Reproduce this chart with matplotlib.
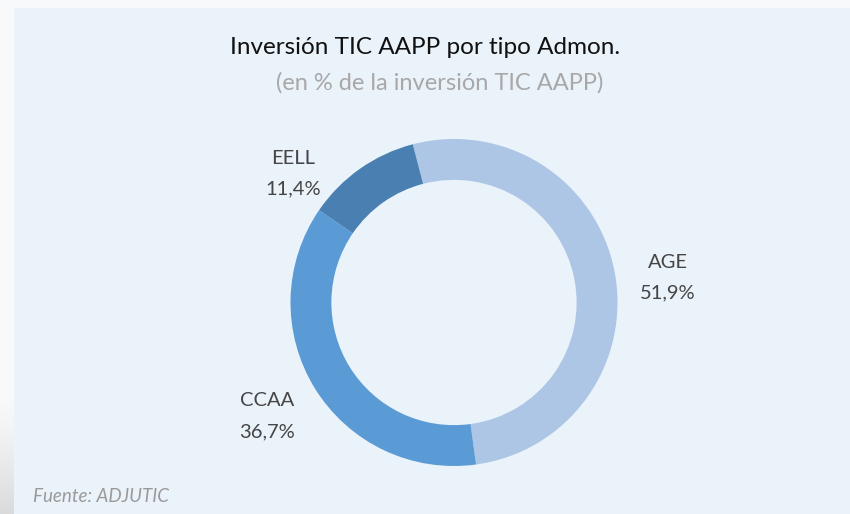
import matplotlib.pyplot as plt
import numpy as np
from matplotlib.patches import Rectangle

# data
categories = ["AGE", "CCAA", "EELL"]
shares = [51.9, 36.7, 11.4]
share_labels = ["51,9%", "36,7%", "11,4%"]
colors = ["#adc6e5", "#5b9bd5", "#4a80b1"]

W, H = 850, 514
BG = "#eaf2fa"
FONT = ["Lato", "DejaVu Sans"]


def fx(px):
    return px / W


def fy(py):
    return 1 - py / H


fig = plt.figure(figsize=(W / 100, H / 100), dpi=100)
fig.patch.set_facecolor("#f8f9fb")

# background: pale blue panel plus a faint grey smudge on the left strip
bg = fig.add_axes([0, 0, 1, 1], zorder=-5)
bg.axis("off")
ramp = np.linspace(0, 1, 120) ** 1.3
smudge = np.zeros((120, 1, 4))
smudge[..., :3] = 0.78
smudge[:, 0, 3] = ramp * 0.6
bg.imshow(smudge, aspect="auto", extent=[0, 14, H, 395], interpolation="bilinear")
bg.add_patch(Rectangle((14, 8), W - 14, H - 8, facecolor=BG, edgecolor="none"))
bg.set_xlim(0, W)
bg.set_ylim(H, 0)

# donut
cx, cy, r = 454, 302.5, 163.5
ax = fig.add_axes([fx(cx - r), fy(cy + r), 2 * r / W, 2 * r / H])
ax.pie(shares, colors=colors, startangle=104.6, counterclock=False, radius=1,
       wedgeprops=dict(width=0.25, edgecolor="none"))
ax.set_xlim(-1, 1)
ax.set_ylim(-1, 1)
ax.set_aspect("equal")
ax.axis("off")

# labels
label_pos = {"AGE": (668, 262), "CCAA": (267, 401), "EELL": (293, 158)}
for cat, lab in zip(categories, share_labels):
    px, py = label_pos[cat]
    fig.text(fx(px), fy(py), cat, ha="center", va="center", fontsize=14.5,
             color="#454545", family=FONT)
    fig.text(fx(px), fy(py + 31), lab, ha="center", va="center", fontsize=14.5,
             color="#454545", family=FONT)

fig.text(fx(425), fy(47), "Inversión TIC AAPP por tipo Admon.", ha="center", va="center",
         fontsize=17.5, color="#111111", family=FONT)
fig.text(fx(440), fy(83), "(en % de la inversión TIC AAPP)", ha="center", va="center",
         fontsize=17, color="#a8a8a8", family=FONT)
fig.text(fx(33), fy(497), "Fuente: ADJUTIC", ha="left", va="center", fontsize=13.5,
         color="#9a9a9a", family=FONT, style="italic")

fig.savefig("out.png", dpi=100, facecolor=fig.get_facecolor())
